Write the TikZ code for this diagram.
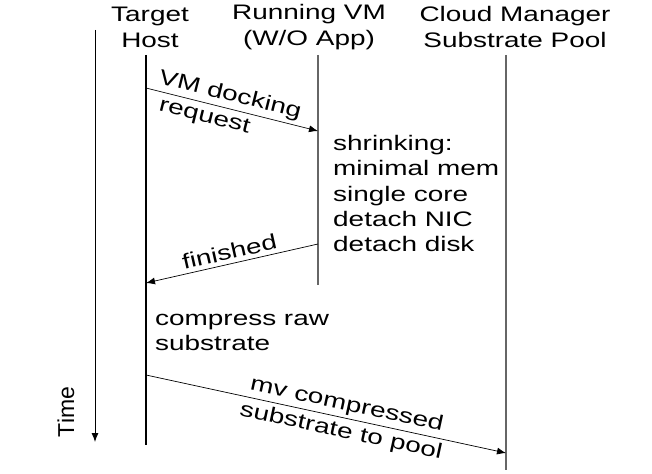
\documentclass[tikz,border=0pt]{standalone}
\usepackage{fontspec}
\setmainfont{Liberation Sans}[FakeStretch=1.33]
\newfontfamily\timefont{Liberation Sans}
\usetikzlibrary{arrows.meta}

\begin{document}
\begin{tikzpicture}[x=1pt, y=-1pt, >={Latex[length=9pt,width=7pt]},
    every node/.style={font=\fontsize{21}{26}\selectfont},
    lifeline/.style={line width=1.2pt},
    msg/.style={->, line width=0.7pt},
    note/.style={align=left, anchor=north west, inner sep=0pt, font=\fontsize{21}{25.3}\selectfont}]
  \useasboundingbox (0,0) rectangle (652,473);
  % headers
  \node[align=center] (host) at (150,27) {Target\\Host};
  \node[align=center] (vm) at (309,27) {Running VM\\(W/O App)};
  \node[align=center] (pool) at (515,27) {Cloud Manager\\Substrate Pool};
  % lifelines
  \coordinate (host-top) at (146,55);
  \coordinate (host-bot) at (146,445);
  \coordinate (vm-top) at (318,55);
  \coordinate (vm-bot) at (318,285);
  \coordinate (pool-top) at (506,55);
  \coordinate (pool-bot) at (506,470);
  \draw[lifeline] (host-top) -- (host-bot);
  \draw[lifeline, black!60] (vm-top) -- (vm-bot);
  \draw[lifeline, black!60] (pool-top) -- (pool-bot);
  % time axis
  \coordinate (time-top) at (95,30);
  \coordinate (time-bot) at (95,442);
  \draw[->, line width=0.9pt] (time-top) -- (time-bot);
  \node[rotate=90, font=\timefont\fontsize{23}{26}\selectfont] (time) at (66,412) {Time};
  % docking request
  \coordinate (req-a) at (146,88);
  \coordinate (req-b) at (318,131);
  \draw[msg] (req-a) -- node[pos=0.47, above, sloped, inner sep=3pt] (req-up) {VM docking}
                        node[pos=0.36, below, sloped, inner sep=5pt] (req-dn) {request} (req-b);
  \node[note] (shrink) at (333,135) {shrinking:\\minimal mem\\single core\\detach NIC\\detach disk};
  % finished
  \coordinate (fin-a) at (318,244);
  \coordinate (fin-b) at (146,283);
  \draw[msg] (fin-a) -- node[pos=0.5, above, sloped, inner sep=4pt] (fin) {finished} (fin-b);
  \node[note] (compress) at (155,314) {compress raw\\substrate};
  % move to pool
  \coordinate (mv-a) at (146,375);
  \coordinate (mv-b) at (506,453);
  \draw[msg] (mv-a) -- node[pos=0.55, above, sloped, inner sep=3pt] (mv-up) {mv compressed}
                       node[pos=0.55, below, sloped, inner sep=4pt] (mv-dn) {substrate to pool} (mv-b);
\end{tikzpicture}
\end{document}
